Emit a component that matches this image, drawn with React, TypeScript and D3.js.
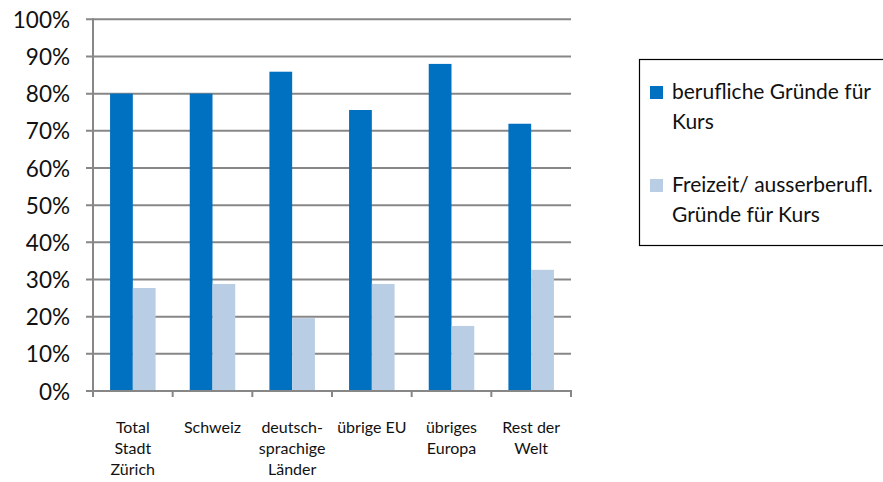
import React from "react";
import * as d3 from "d3";

// Kursgründe nach Herkunft
const categories: string[][] = [
  ["Total", "Stadt", "Zürich"],
  ["Schweiz"],
  ["deutsch-", "sprachige", "Länder"],
  ["übrige EU"],
  ["übriges", "Europa"],
  ["Rest der", "Welt"],
];
const categoryKeys = ["total", "schweiz", "deutsch", "eu", "europa", "welt"];
const beruflich = [0.80, 0.80, 0.859, 0.756, 0.88, 0.719];
const freizeit = [0.277, 0.288, 0.196, 0.288, 0.175, 0.326];
const seriesNames = [
  ["berufliche Gründe für", "Kurs"],
  ["Freizeit/ ausserberufl.", "Gründe für Kurs"],
];
const seriesColors = ["#0070C0", "#B9CDE5"];
const yTicks = [0, 0.1, 0.2, 0.3, 0.4, 0.5, 0.6, 0.7, 0.8, 0.9, 1.0];

const W = 883;
const H = 482;
const FONT = "Lato, 'Open Sans', sans-serif";
const GRID = "#878787";

export default function App() {
  const x0 = d3.scaleBand<string>().domain(categoryKeys).range([93, 571]).padding(0);
  const x1 = d3
    .scaleBand<number>()
    .domain([0, 1])
    .range([0, x0.bandwidth()])
    .paddingInner(0)
    .paddingOuter(0.75);
  const y = d3.scaleLinear().domain([0, 1]).range([391, 19.3]);
  const values = [beruflich, freizeit];
  const fmt = d3.format(".0%");

  const boundaries = categoryKeys.map((k) => x0(k)!).concat([x0.range()[1]]);

  return (
    <svg
      width={W}
      height={H}
      style={{ position: "absolute", left: 0, top: 0, background: "#fff" }}
      fontFamily={FONT}
    >
      {/* horizontal grid */}
      {yTicks.slice(1).map((t) => (
        <line key={t} x1={86} x2={571} y1={y(t)} y2={y(t)} stroke={GRID} strokeWidth={2} />
      ))}
      {/* bars */}
      {values.map((vals, si) =>
        vals.map((v, ci) => (
          <rect
            key={`${si}-${ci}`}
            x={x0(categoryKeys[ci])! + x1(si)!}
            y={y(v)}
            width={x1.bandwidth()}
            height={y(0) - y(v)}
            fill={seriesColors[si]}
          />
        ))
      )}
      {/* y axis */}
      <line x1={93} x2={93} y1={y(1) - 1} y2={y(0)} stroke={GRID} strokeWidth={2} />
      <line x1={86} x2={93} y1={y(0)} y2={y(0)} stroke={GRID} strokeWidth={2} />
      {yTicks.map((t) => (
        <text
          key={t}
          x={70}
          y={y(t)}
          dy="0.38em"
          textAnchor="end"
          fontSize={22.5}
          fill="#111"
        >
          {fmt(t)}
        </text>
      ))}
      {/* x axis */}
      <line x1={92} x2={572} y1={y(0)} y2={y(0)} stroke={GRID} strokeWidth={2} />
      {boundaries.map((b, i) => (
        <line key={i} x1={b} x2={b} y1={y(0)} y2={y(0) + 6} stroke={GRID} strokeWidth={2} />
      ))}
      {categories.map((lines, ci) => (
        <text
          key={ci}
          x={x0(categoryKeys[ci])! + x0.bandwidth() / 2}
          y={433}
          textAnchor="middle"
          fontSize={16}
          fill="#111"
        >
          {lines.map((l, li) => (
            <tspan key={li} x={x0(categoryKeys[ci])! + x0.bandwidth() / 2} dy={li === 0 ? 0 : 21}>
              {l}
            </tspan>
          ))}
        </text>
      ))}
      {/* legend */}
      <rect x={639.5} y={59.5} width={260} height={186} fill="none" stroke="#000" strokeWidth={1.2} />
      {seriesNames.map((lines, si) => {
        const base = si === 0 ? 99 : 192;
        return (
          <g key={si}>
            <rect x={650} y={base - 13} width={13} height={13} fill={seriesColors[si]} />
            <text x={672} y={base} fontSize={21} fill="#111">
              {lines.map((l, li) => (
                <tspan key={li} x={672} dy={li === 0 ? 0 : 30}>
                  {l}
                </tspan>
              ))}
            </text>
          </g>
        );
      })}
    </svg>
  );
}
